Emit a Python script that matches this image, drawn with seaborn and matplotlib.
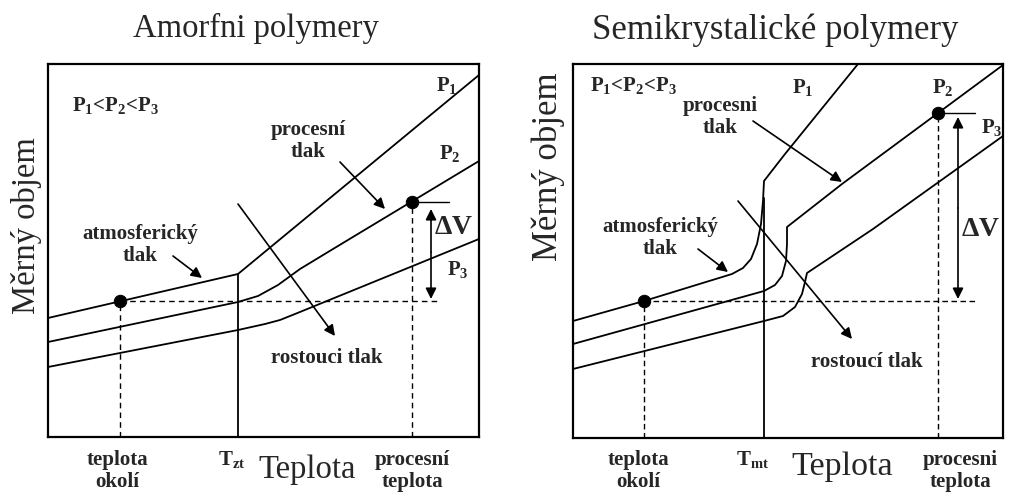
import matplotlib
matplotlib.use("Agg")
import matplotlib.pyplot as plt
import seaborn as sns
import pandas as pd

# --- schematic curves (arbitrary units) ---
# amorphous polymers (left)
amo_p1_x = [0, 190, 431]
amo_p1_y = [119, 163, 362]
amo_p2_x = [0, 190, 210, 230, 252, 285, 431]
amo_p2_y = [95, 135, 141, 152, 168, 188, 276]
amo_p3_x = [0, 190, 217, 232, 247, 431]
amo_p3_y = [70, 107, 113, 117, 123, 198]
amo_tg = 190
amo_t_amb, amo_v_amb = 72, 136
amo_t_proc, amo_v_proc = 364, 235

# semicrystalline polymers (right)
semi_p1_x = [0, 71, 159, 170, 178, 184, 188, 190, 191, 212, 285]
semi_p1_y = [117, 137, 164, 170, 179, 194, 214, 237, 257, 284, 374]
semi_p2_x = [0, 191, 202, 209, 213, 214, 214, 269, 430]
semi_p2_y = [94, 147, 153, 162, 177, 194, 211, 254, 373]
semi_p3_x = [0, 191, 210, 222, 229, 232, 234, 300, 430]
semi_p3_y = [69, 117, 122, 131, 144, 156, 165, 209, 302]
semi_tm = 191
semi_t_amb, semi_v_amb = 71, 137
semi_t_proc, semi_v_proc = 365, 325

sns.set_style("white")
plt.rcParams["font.family"] = ["Liberation Serif", "DejaVu Serif"]
plt.rcParams["mathtext.fontset"] = "custom"
plt.rcParams["mathtext.rm"] = "Liberation Serif"
plt.rcParams["mathtext.bf"] = "Liberation Serif:bold"

fig = plt.figure(figsize=(10.09, 5.02), dpi=100)
ax1 = fig.add_axes([48/1009, 64/502, 431/1009, 373/502])
ax2 = fig.add_axes([573/1009, 63/502, 430/1009, 374/502])

BIG = 23.5
SMALL = 15
PLAB = "$\\mathbf{P_1}$<$\\mathbf{P_2}$<$\\mathbf{P_3}$"


def curve(ax, xs, ys):
    df = pd.DataFrame({"x": xs, "y": ys})
    sns.lineplot(data=df, x="x", y="y", sort=False, estimator=None,
                 color="black", lw=1.3, ax=ax)


def arrow(ax, start, end, style="-|>"):
    ax.annotate("", xy=end, xytext=start,
                arrowprops=dict(arrowstyle=style, color="black", lw=1.2,
                                mutation_scale=16, shrinkA=0, shrinkB=0))


def bold(s, ax, x, y, size=SMALL, ha="center"):
    ax.text(x, y, s, fontsize=size, fontweight="bold", ha=ha,
            va="center", linespacing=1.1)


def panel(ax, w, h, curves, tline, amb, proc, dash, texts):
    for xs, ys in curves:
        curve(ax, xs, ys)
    t_amb, v_amb = amb
    t_proc, v_proc = proc
    ax.plot([tline, tline], [0, texts["tline_top"]], color="black", lw=1.3)
    ax.plot([t_amb, t_amb], [0, v_amb], color="black", lw=1, ls=dash)
    ax.plot([t_proc, t_proc], [0, v_proc], color="black", lw=1, ls=dash)
    ax.plot([t_amb, texts["hline_end"]], [v_amb, v_amb], color="black", lw=1, ls=dash)
    ax.plot([t_proc, t_proc + 37], [v_proc, v_proc], color="black", lw=1)
    sns.scatterplot(x=[t_amb, t_proc], y=[v_amb, v_proc], color="black",
                    s=80, ax=ax, zorder=5, edgecolor="black")
    ax.set_xlim(0, w)
    ax.set_ylim(0, h)
    ax.set_xticks([])
    ax.set_yticks([])
    ax.set_xlabel("")
    ax.set_ylabel("")
    for sp in ax.spines.values():
        sp.set_visible(True)
        sp.set_color("black")
        sp.set_linewidth(1.6)


# ---------- left panel ----------
panel(ax1, 431, 373,
      [(amo_p1_x, amo_p1_y), (amo_p2_x, amo_p2_y), (amo_p3_x, amo_p3_y)],
      amo_tg, (amo_t_amb, amo_v_amb), (amo_t_proc, amo_v_proc), (0, (4, 3)),
      {"tline_top": 163, "hline_end": 389})
ax1.text(208, 410, "Amorfni polymery", fontsize=BIG, ha="center", va="center")
ax1.text(-21, 212, "Měrný objem", fontsize=BIG, rotation=90, ha="center", va="center")
ax1.text(259, -32, "Teplota", fontsize=BIG, ha="center", va="center")
bold("teplota\nokolí", ax1, 69, -33)
bold("procesní\nteplota", ax1, 364, -33)
ax1.text(184, -22, r"$\mathbf{T}_\mathbf{zt}$", fontsize=SMALL, ha="center", va="center")
bold(PLAB, ax1, 24, 333, ha="left")
bold(r"$\mathbf{P_1}$", ax1, 399, 353)
bold(r"$\mathbf{P_2}$", ax1, 402, 285)
bold(r"$\mathbf{P_3}$", ax1, 410, 169)
bold(r"$\mathbf{\Delta V}$", ax1, 406, 210, size=20)
bold("procesní\ntlak", ax1, 260, 297)
bold("atmosferický\ntlak", ax1, 92, 193)
bold("rostouci tlak", ax1, 279, 80)
arrow(ax1, (292, 275), (337, 228))
arrow(ax1, (190, 233), (287, 101))
arrow(ax1, (125, 181), (154, 159))
arrow(ax1, (383, 185), (383, 228))
arrow(ax1, (383, 185), (383, 138))

# ---------- right panel ----------
panel(ax2, 430, 374,
      [(semi_p1_x, semi_p1_y), (semi_p2_x, semi_p2_y), (semi_p3_x, semi_p3_y)],
      semi_tm, (semi_t_amb, semi_v_amb), (semi_t_proc, semi_v_proc), (0, (4, 2.5)),
      {"tline_top": 240, "hline_end": 404})
ax2.text(202, 409, "Semikrystalické polymery", fontsize=BIG + 1.5, ha="center", va="center")
ax2.text(-25, 272, "Měrný objem", fontsize=BIG + 1.5, rotation=90, ha="center", va="center")
ax2.text(269, -28, "Teplota", fontsize=BIG + 1, ha="center", va="center")
bold("teplota\nokolí", ax2, 65, -32)
bold("procesni\nteplota", ax2, 387, -32)
ax2.text(180, -21, r"$\mathbf{T}_\mathbf{mt}$", fontsize=SMALL, ha="center", va="center")
bold(PLAB, ax2, 17, 354, ha="left")
bold(r"$\mathbf{P_1}$", ax2, 230, 352)
bold(r"$\mathbf{P_2}$", ax2, 370, 352)
bold(r"$\mathbf{P_3}$", ax2, 419, 312)
bold(r"$\mathbf{\Delta V}$", ax2, 408, 209, size=20)
bold("procesni\ntlak", ax2, 147, 322)
bold("atmosferický\ntlak", ax2, 87, 201)
bold("rostoucí tlak", ax2, 294, 77)
arrow(ax2, (180, 317), (269, 256))
arrow(ax2, (165, 237), (279, 99))
arrow(ax2, (125, 189), (155, 166))
arrow(ax2, (385, 230), (385, 321))
arrow(ax2, (385, 230), (385, 139))

fig.savefig("out.png", dpi=100, facecolor="white")
